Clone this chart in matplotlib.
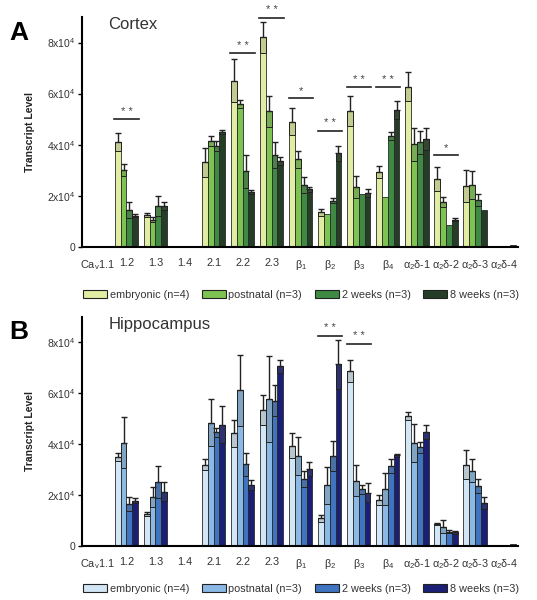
import matplotlib
matplotlib.use("Agg")
import matplotlib.pyplot as plt
import numpy as np
from matplotlib.patches import Patch

plt.rcParams['font.family'] = ['Liberation Sans', 'DejaVu Sans']
plt.rcParams['mathtext.fontset'] = 'custom'
plt.rcParams['mathtext.rm'] = 'Liberation Sans'
plt.rcParams['mathtext.it'] = 'Liberation Sans'

categories = [r"Ca$_\mathrm{v}$1.1", "1.2", "1.3", "1.4", "2.1", "2.2", "2.3",
              r"$\mathrm{\beta}_1$", r"$\mathrm{\beta}_2$", r"$\mathrm{\beta}_3$", r"$\mathrm{\beta}_4$",
              r"$\mathrm{\alpha}_2$δ-1", r"$\mathrm{\alpha}_2$δ-2", r"$\mathrm{\alpha}_2$δ-3", r"$\mathrm{\alpha}_2$δ-4"]
series = ["embryonic (n=4)", "postnatal (n=3)", "2 weeks (n=3)", "8 weeks (n=3)"]

# values in units of 1e4
cortex_emb  = [0, 4.1, 1.25, 0, 3.3, 6.5, 8.2, 4.9, 1.35, 5.32, 2.93, 6.27, 2.67, 2.38, 0.0]
cortex_post = [0, 3.0, 1.05, 0, 4.15, 5.6, 5.3, 3.42, 1.27, 2.35, 1.93, 4.01, 1.75, 2.42, 0.0]
cortex_2wk  = [0, 1.45, 1.6, 0, 3.95, 2.95, 3.6, 2.42, 1.8, 2.05, 4.34, 4.09, 0.85, 1.83, 0.03]
cortex_8wk  = [0, 1.22, 1.6, 0, 4.5, 2.15, 3.35, 2.25, 3.66, 2.09, 5.36, 4.21, 1.05, 1.44, 0.05]
cortex_emb_err  = [0, 0.35, 0.07, 0, 0.55, 0.85, 0.6, 0.52, 0.13, 0.58, 0.25, 0.57, 0.47, 0.62, 0]
cortex_post_err = [0, 0.24, 0.1, 0, 0.2, 0.15, 0.6, 0.34, 0.03, 0.43, 0.0, 0.66, 0.21, 0.56, 0]
cortex_2wk_err  = [0, 0.32, 0.4, 0, 0.2, 0.65, 0.5, 0.3, 0.1, 0.0, 0.14, 0.45, 0.0, 0.22, 0]
cortex_8wk_err  = [0, 0.05, 0.15, 0, 0.08, 0.08, 0.15, 0.1, 0.29, 0.16, 0.35, 0.43, 0.06, 0.0, 0.01]

hippo_emb  = [0, 3.49, 1.24, 0, 3.19, 4.41, 5.32, 3.92, 1.07, 6.86, 1.79, 5.09, 0.85, 3.19, 0.02]
hippo_post = [0, 4.05, 1.92, 0, 4.84, 6.1, 5.75, 3.53, 2.37, 2.56, 2.21, 4.04, 0.75, 2.94, 0.02]
hippo_2wk  = [0, 1.64, 2.51, 0, 4.45, 3.2, 5.69, 2.62, 3.52, 2.21, 3.13, 3.86, 0.55, 2.35, 0.02]
hippo_8wk  = [0, 1.76, 2.12, 0, 4.76, 2.38, 7.05, 3.02, 7.13, 2.08, 3.56, 4.47, 0.52, 1.69, 0.05]
hippo_emb_err  = [0, 0.17, 0.09, 0, 0.2, 0.52, 0.59, 0.49, 0.13, 0.42, 0.2, 0.16, 0.05, 0.56, 0]
hippo_post_err = [0, 1.01, 0.39, 0, 0.94, 1.38, 1.69, 0.74, 0.73, 0.6, 0.63, 0.76, 0.26, 0.45, 0]
hippo_2wk_err  = [0, 0.28, 0.63, 0, 0.18, 0.46, 0.61, 0.32, 0.58, 0.17, 0.26, 0.22, 0.05, 0.29, 0]
hippo_8wk_err  = [0, 0.1, 0.37, 0, 0.72, 0.2, 0.26, 0.27, 0.96, 0.37, 0.06, 0.29, 0.06, 0.23, 0.01]

cortex_sig = [(1, 5.0, "* *"), (5, 7.58, "* *"), (6, 8.96, "* *"), (7, 5.82, "*"),
              (8, 4.54, "* *"), (9, 6.25, "* *"), (10, 6.25, "* *"), (12, 3.58, "*")]
hippo_sig = [(8, 8.24, "* *"), (9, 7.94, "* *")]

green_colors = ["#e1eda2", "#7dc352", "#3f8a42", "#253d26"]
blue_colors = ["#d3e6f5", "#8ab9e6", "#3f74c0", "#1a1f75"]

fig = plt.figure(figsize=(5.37, 6.0), dpi=100)
W, H = 537.0, 600.0


def panel(rect, vals, errs, colors, sig, letter, title, legend_y):
    ax = fig.add_axes(rect)
    x = np.arange(len(categories))
    offsets = [-0.3, -0.1, 0.1, 0.3]
    for k in range(4):
        v = np.array(vals[k])
        e = np.array(errs[k])
        xs = x + offsets[k]
        ax.bar(xs, v, width=0.2, color=colors[k], edgecolor="#2a2a2a", linewidth=0.6, zorder=2)
        c = np.array(matplotlib.colors.to_rgb(colors[k]))
        shade = 0.75 * c + 0.25 * np.array([0.4, 0.4, 0.35])
        mask = e > 0.04
        ax.bar(xs[mask], e[mask], bottom=v[mask] - e[mask], width=0.2, color=shade,
               edgecolor="#222222", linewidth=0.7, zorder=3)
        ax.errorbar(xs[mask], v[mask], yerr=[np.zeros(mask.sum()), e[mask]], fmt="none",
                    ecolor="#222222", elinewidth=1.0, capsize=2, capthick=1.0, zorder=4)
    for (i, yv, s) in sig:
        ax.plot([i - 0.42, i + 0.42], [yv, yv], color="#222222", lw=1.2, clip_on=False, zorder=5)
        ax.text(i, yv + 0.1, s, ha="center", va="bottom", fontsize=8, color="#444444", clip_on=False)
    ax.set_xlim(-0.53, 14.48)
    ax.set_ylim(0, 9.0)
    ax.set_yticks([0, 2, 4, 6, 8])
    ax.set_yticklabels(["0", r"2x10$^4$", r"4x10$^4$", r"6x10$^4$", r"8x10$^4$"], fontsize=7.5, color="#333333")
    ax.set_xticks(x)
    ax.set_xticklabels(categories, fontsize=7.8, color="#333333")
    ax.tick_params(axis="x", length=0, pad=8)
    ax.tick_params(axis="y", length=3, width=1, pad=2, direction="out")
    for s in ["top", "right"]:
        ax.spines[s].set_visible(False)
    ax.spines["left"].set_linewidth(1.5)
    ax.spines["bottom"].set_linewidth(1.5)
    ax.set_ylabel("Transcript Level", fontsize=7.5, fontweight="bold", color="#222222")
    ax.yaxis.set_label_coords(-0.108, 0.5)
    ax.text(0.06, 1.0, title, transform=ax.transAxes, fontsize=12, color="#333333", va="top", ha="left")
    fig.text(9 / W, rect[1] + rect[3] - 0.006, letter, fontsize=19, fontweight="bold", va="top", ha="left")
    handles = [Patch(facecolor=colors[k], edgecolor="#222222", linewidth=0.8) for k in range(4)]
    fig.legend(handles, series, loc="center", bbox_to_anchor=(301 / W, 1 - legend_y / H), ncol=4,
               frameon=False, fontsize=7.8, handlelength=2.2, handleheight=0.8, handletextpad=0.25,
               columnspacing=1.2, borderaxespad=0, labelcolor="#333333")
    return ax

top_rect = [82 / W, 1 - 246.7 / H, 436 / W, 229.7 / H]
bot_rect = [82 / W, 1 - 545.7 / H, 436 / W, 229.0 / H]

panel(top_rect, [cortex_emb, cortex_post, cortex_2wk, cortex_8wk],
      [cortex_emb_err, cortex_post_err, cortex_2wk_err, cortex_8wk_err],
      green_colors, cortex_sig, "A", "Cortex", 295)
panel(bot_rect, [hippo_emb, hippo_post, hippo_2wk, hippo_8wk],
      [hippo_emb_err, hippo_post_err, hippo_2wk_err, hippo_8wk_err],
      blue_colors, hippo_sig, "B", "Hippocampus", 589)

fig.savefig("out.png", dpi=100)
